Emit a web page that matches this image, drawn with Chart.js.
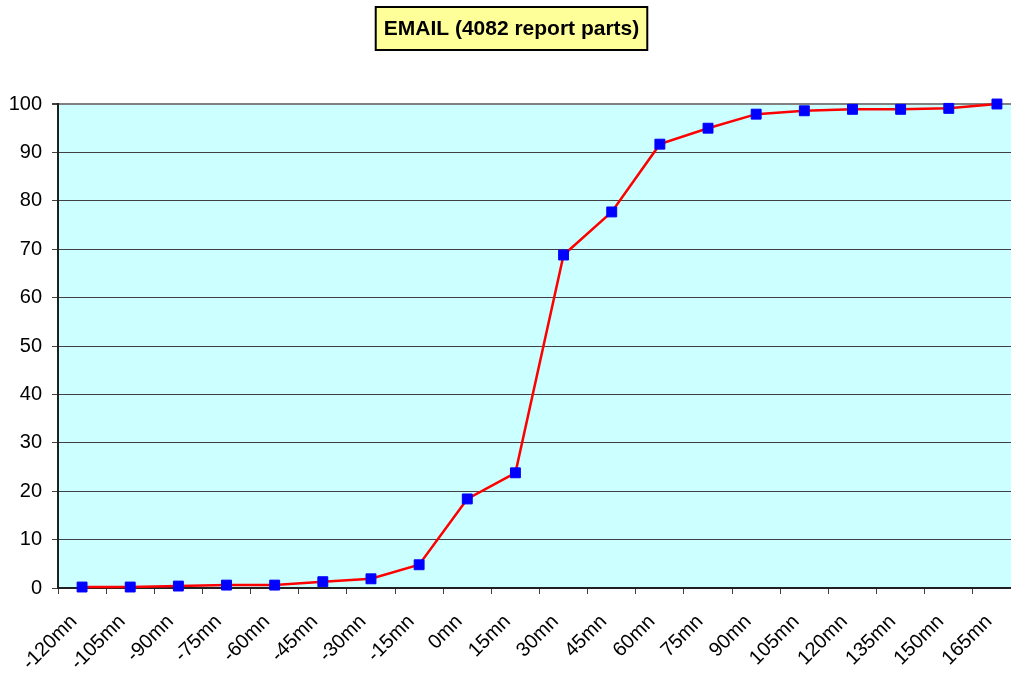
<!DOCTYPE html>
<html>
<head>
<meta charset="utf-8">
<title>EMAIL (4082 report parts)</title>
<script src="https://cdn.jsdelivr.net/npm/chart.js@4/dist/chart.umd.min.js"></script>
<style>
	html, body { margin: 0; padding: 0; background: #fff; overflow: hidden; }
</style>
</head>
<body>
<canvas id="chart" width="1029" height="674"></canvas>
<script>
var titleText = "EMAIL (4082 report parts)";
var categories = ["-120mn", "-105mn", "-90mn", "-75mn", "-60mn", "-45mn", "-30mn", "-15mn", "0mn", "15mn",
	"30mn", "45mn", "60mn", "75mn", "90mn", "105mn", "120mn", "135mn", "150mn", "165mn"];
var percentValues = [0.2, 0.2, 0.4, 0.6, 0.6, 1.3, 1.9, 4.8, 18.4, 23.8,
	68.8, 77.7, 91.7, 95.0, 97.9, 98.6, 98.9, 98.9, 99.1, 100];
var yTicks = [0, 10, 20, 30, 40, 50, 60, 70, 80, 90, 100];

var fontFamily = "'Liberation Sans', Arial, Helvetica, sans-serif";

// cyan plot area + yellow title box (like the excel chart)
var excelLook = {
	id: 'excelLook',
	beforeDraw: function(chart) {
		var ctx = chart.ctx, a = chart.chartArea;
		ctx.save();
		ctx.fillStyle = '#ccffff';
		ctx.fillRect(a.left, a.top, a.right - a.left, a.bottom - a.top);
		ctx.restore();
	},
	afterDraw: function(chart) {
		var ctx = chart.ctx;
		ctx.save();
		ctx.font = "bold 21px " + fontFamily;
		var w = ctx.measureText(titleText).width + 16;
		var cx = 511.5, top = 7, h = 43;
		ctx.fillStyle = '#ffff99';
		ctx.fillRect(cx - w / 2, top, w, h);
		ctx.lineWidth = 2;
		ctx.strokeStyle = '#000';
		ctx.strokeRect(cx - w / 2, top, w, h);
		ctx.fillStyle = '#000';
		ctx.textAlign = 'center';
		ctx.textBaseline = 'middle';
		ctx.fillText(titleText, cx, top + h / 2 + 1);
		ctx.restore();
	}
};

function draw() {
	var ctx = document.getElementById('chart').getContext('2d');
	var chart = new Chart(ctx, {
		type: 'line',
		data: {
			labels: categories,
			datasets: [{
				label: titleText,
				data: percentValues,
				borderColor: '#ff0000',
				borderWidth: 2.5,
				tension: 0,
				pointStyle: 'rect',
				pointRadius: 7,
				pointBorderWidth: 1,
				pointBackgroundColor: '#0000ff',
				pointBorderColor: '#0000ff',
				clip: false
			}]
		},
		options: {
			responsive: false,
			animation: false,
			layout: { padding: { top: 104, right: 0, left: 0, bottom: 0 } },
			plugins: {
				legend: { display: false },
				title: { display: false },
				tooltip: { enabled: false }
			},
			scales: {
				x: {
					offset: true,
					grid: {
						offset: true,
						drawOnChartArea: false,
						drawTicks: true,
						tickLength: 6,
						color: '#404040'
					},
					border: { color: '#202020', width: 2 },
					ticks: {
						autoSkip: false,
						minRotation: 45,
						maxRotation: 45,
						padding: 16,
						labelOffset: -8,
						color: '#000',
						font: { family: fontFamily, size: 20 }
					},
					afterFit: function(scale) {
						scale.height = 86;
						scale.paddingRight = 0;
					}
				},
				y: {
					min: 0,
					max: 100,
					afterBuildTicks: function(scale) {
						scale.ticks = yTicks.map(function(v) { return { value: v }; });
					},
					grid: {
						color: function(c) { return c.tick && c.tick.value === 100 ? '#808080' : '#404040'; },
						lineWidth: function(c) { return c.tick && c.tick.value === 100 ? 2 : 1; },
						tickLength: 6,
						tickColor: '#404040'
					},
					border: { color: '#202020', width: 2 },
					ticks: {
						padding: 10,
						color: '#000',
						font: { family: fontFamily, size: 20 }
					},
					afterFit: function(scale) { scale.width = 58; }
				}
			}
		},
		plugins: [excelLook]
	});
}

draw();
</script>
</body>
</html>
